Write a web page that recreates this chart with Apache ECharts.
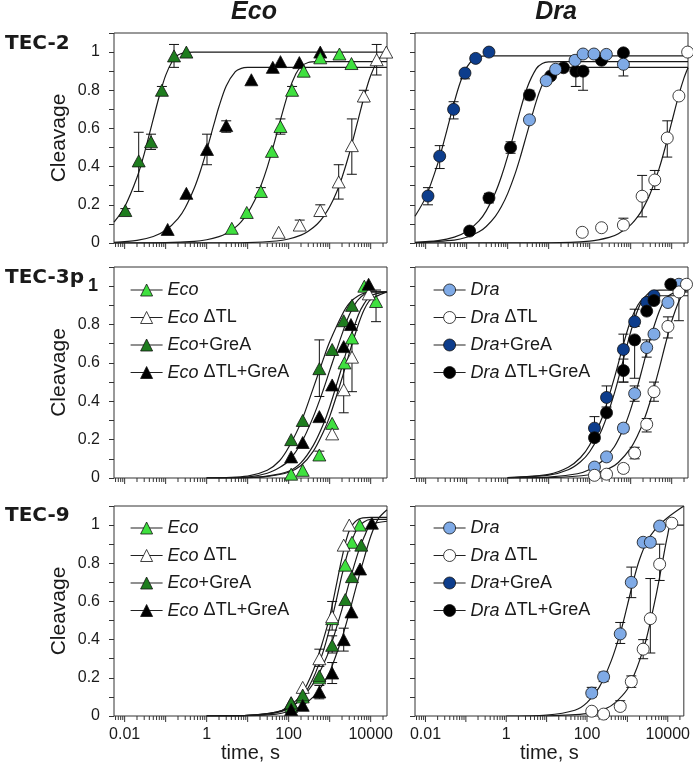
<!DOCTYPE html>
<html><head><meta charset="utf-8">
<script src="https://cdn.jsdelivr.net/npm/echarts@6.0.0/dist/echarts.min.js"></script>
<style>html,body{margin:0;padding:0;background:#fff}#chart{width:693px;height:766px}</style>
</head><body><div id="chart"></div>
<script>
// ---------- axis / label data ----------
const X_MIN = 0.0055, X_MAX = 25000;
const X_TICK_VALUES = [0.01, 1, 100, 10000];
const X_TICK_LABELS = ['0.01', '1', '100', '10000'];
const X_DECADES = [-3, -2, -1, 0, 1, 2, 3, 4];
const X_MULTS = [1, 2, 3, 4, 5, 6, 7, 8, 9];
const Y_TICK_VALUES = [0, 0.2, 0.4, 0.6, 0.8, 1];
const Y_TICK_LABELS = ['0', '0.2', '0.4', '0.6', '0.8', '1'];
const COLUMN_TITLES = ['Eco', 'Dra'];
const ROW_TITLES = ['TEC-2', 'TEC-3p', 'TEC-9'];
const LEGEND_ECO = ['Eco', 'Eco ΔTL', 'Eco+GreA', 'Eco ΔTL+GreA'];
const LEGEND_DRA = ['Dra', 'Dra ΔTL', 'Dra+GreA', 'Dra ΔTL+GreA'];

// ---------- TEC-2, Eco ----------
const t2_eco = [[4.1,0.077],[9.5,0.16],[21,0.27],[39,0.48],[63,0.61],[121,0.80],[233,0.90],[590,0.97],[1730,0.99],[3400,0.94]];
const t2_eco_err = [[21,0.25,0.29],[63,0.57,0.65],[121,0.78,0.82]];
const t2_eco_fit = [[0.0055,0],[0.1,0.0017],[0.5,0.0085],[1,0.017],[2,0.0337],[3,0.05],[5,0.0818],[7,0.1125],[10,0.1563],[15,0.2248],[20,0.2872],[30,0.3964],[50,0.5638],[70,0.6805],[100,0.793],[150,0.8862],[200,0.924],[300,0.9457],[500,0.9499],[2000,0.95],[25000,0.95]];
const t2_ecoTL = [[57,0.056],[186,0.094],[590,0.17],[1660,0.32],[3470,0.51],[6800,0.77],[14000,0.96],[24000,1.0]];
const t2_ecoTL_err = [[186,0.07,0.12],[590,0.14,0.20],[1660,0.23,0.41],[3470,0.36,0.65],[6800,0.74,0.80],[14000,0.88,1.04]];
const t2_ecoTL_fit = [[0.0055,0],[1,0.0002],[10,0.0021],[50,0.0104],[100,0.0208],[200,0.0411],[300,0.0611],[500,0.0996],[700,0.1367],[1000,0.1894],[1500,0.2702],[2000,0.343],[3000,0.4674],[5000,0.6501],[7000,0.7701],[10000,0.8775],[15000,0.9571],[20000,0.985],[25000,0.9948]];
const t2_ecoG = [[0.0104,0.17],[0.022,0.43],[0.044,0.53],[0.081,0.80],[0.16,0.98],[0.32,1.0]];
const t2_ecoG_err = [[0.0104,0.155,0.18],[0.022,0.27,0.58],[0.044,0.49,0.57],[0.081,0.78,0.82],[0.16,0.92,1.04]];
const t2_ecoG_fit = [[0.0055,0.109],[0.01,0.189],[0.02,0.343],[0.03,0.467],[0.05,0.65],[0.07,0.77],[0.1,0.878],[0.15,0.957],[0.2,0.985],[0.3,0.998],[0.5,1.0],[2,1.0],[25000,1.0]];
const t2_ecoTLG = [[0.112,0.071],[0.32,0.26],[1.02,0.49],[3.0,0.615],[12.3,0.855],[41,0.92],[63,0.95],[182,0.945],[590,1.0]];
const t2_ecoTLG_err = [[1.02,0.41,0.57],[3.0,0.58,0.64]];
const t2_ecoTLG_fit = [[0.0055,0.004],[0.02,0.0137],[0.05,0.0339],[0.1,0.0665],[0.2,0.128],[0.3,0.185],[0.5,0.288],[0.7,0.376],[1,0.485],[1.5,0.621],[2,0.715],[3,0.823],[5,0.898],[7,0.915],[10,0.9195],[20,0.92],[200,0.92],[25000,0.92]];

// ---------- TEC-2, Dra ----------
const t2_dra = [[3.4,0.645],[8.7,0.85],[14.8,0.91],[44,0.957],[69,0.99],[127,0.99],[255,0.988],[665,0.936]];
const t2_dra_err = [[665,0.875,0.94]];
const t2_dra_fit = [[0.0055,0.0017],[0.05,0.0151],[0.1,0.0299],[0.2,0.0588],[0.3,0.0867],[0.5,0.14],[0.7,0.1897],[1,0.2586],[1.5,0.3592],[2,0.4445],[3,0.5781],[5,0.7433],[7,0.8286],[10,0.8861],[15,0.9135],[20,0.9187],[30,0.92],[300,0.92],[25000,0.92]];
const t2_draTL = [[66,0.056],[195,0.08],[665,0.094],[1900,0.245],[3870,0.33],[7800,0.55],[15000,0.77],[24500,1.0]];
const t2_draTL_err = [[665,0.08,0.13],[1900,0.137,0.354],[3870,0.28,0.38],[7800,0.45,0.64]];
const t2_draTL_fit = [[0.0055,0],[10,0.001],[100,0.01],[300,0.0296],[500,0.0488],[1000,0.0952],[1500,0.1393],[2000,0.1813],[3000,0.2592],[5000,0.3935],[7000,0.5034],[10000,0.6321],[15000,0.7769],[20000,0.8647],[25000,0.9179]];
const t2_draG = [[0.0114,0.246],[0.022,0.455],[0.048,0.70],[0.091,0.89],[0.166,0.967],[0.35,1.0]];
const t2_draG_err = [[0.0114,0.20,0.29],[0.022,0.39,0.51],[0.048,0.65,0.74],[0.091,0.86,0.89]];
const t2_draG_fit = [[0.0055,0.14],[0.01,0.239],[0.02,0.42],[0.03,0.557],[0.05,0.738],[0.07,0.842],[0.1,0.92],[0.15,0.965],[0.2,0.976],[0.3,0.98],[1,0.98],[25000,0.98]];
const t2_draTLG = [[0.118,0.0625],[0.35,0.236],[1.18,0.50],[3.4,0.775],[11.2,0.875],[23,0.918],[46,0.90],[69,0.90],[195,0.957],[665,0.996]];
const t2_draTLG_err = [[0.35,0.21,0.26],[1.18,0.47,0.53],[3.4,0.75,0.80],[46,0.82,0.92],[69,0.80,0.92]];
const t2_draTLG_fit = [[0.0055,0.0034],[0.02,0.0123],[0.05,0.0304],[0.1,0.0598],[0.2,0.1158],[0.3,0.1682],[0.5,0.2637],[0.7,0.3473],[1,0.4541],[1.5,0.5917],[2,0.6911],[3,0.8149],[5,0.9131],[7,0.9398],[10,0.9486],[20,0.95],[200,0.95],[25000,0.95]];

// ---------- TEC-3p1, Eco ----------
const t3_eco = [[115,0.02],[220,0.04],[560,0.12],[1150,0.285],[2300,0.60],[3500,0.73],[7000,1.0],[13500,0.92]];
const t3_eco_err = [[560,0.10,0.14],[13500,0.815,0.98]];
const t3_eco_fit = [[1,0],[10,0.002],[30,0.01],[100,0.035],[200,0.08],[400,0.17],[700,0.28],[1000,0.37],[2000,0.58],[3000,0.71],[5000,0.85],[7000,0.91],[10000,0.95],[25000,0.97]];
const t3_ecoTL = [[1150,0.23],[2200,0.46],[3500,0.63],[9000,0.96]];
const t3_ecoTL_err = [[2200,0.34,0.58],[3500,0.45,0.80]];
const t3_ecoTL_fit = [[1,0],[10,0.002],[30,0.008],[100,0.03],[200,0.065],[400,0.14],[700,0.24],[1000,0.32],[2000,0.52],[3000,0.65],[5000,0.80],[7000,0.88],[10000,0.93],[25000,0.97]];
const t3_ecoG = [[115,0.20],[220,0.30],[560,0.57],[1150,0.67],[2200,0.82],[3500,0.90]];
const t3_ecoG_err = [[560,0.425,0.72]];
const t3_ecoG_fit = [[1,0],[10,0.01],[30,0.04],[60,0.09],[100,0.16],[200,0.29],[400,0.47],[700,0.62],[1000,0.71],[2000,0.85],[3000,0.91],[5000,0.95],[10000,0.97],[25000,0.97]];
const t3_ecoTLG = [[115,0.11],[220,0.185],[560,0.32],[1150,0.485],[2200,0.685],[3300,0.80],[8900,1.01]];
const t3_ecoTLG_err = [];
const t3_ecoTLG_fit = [[1,0],[10,0.005],[30,0.025],[60,0.055],[100,0.09],[200,0.18],[400,0.32],[700,0.46],[1000,0.56],[2000,0.75],[3000,0.85],[5000,0.93],[10000,0.97],[25000,0.97]];

// ---------- TEC-3p1, Dra ----------
const t3_dra = [[131,0.057],[258,0.11],[665,0.26],[1250,0.44],[2460,0.68],[3700,0.75],[8100,0.915],[15000,1.01]];
const t3_dra_err = [[665,0.24,0.28],[1250,0.40,0.48],[2460,0.63,0.72]];
const t3_dra_fit = [[1,0],[10,0.0045],[50,0.022],[100,0.044],[200,0.087],[400,0.163],[700,0.267],[1000,0.358],[1500,0.484],[2000,0.585],[3000,0.727],[5000,0.871],[7000,0.931],[10000,0.96],[25000,0.97]];
const t3_draTL = [[131,0.014],[258,0.02],[665,0.05],[1250,0.13],[2460,0.28],[3700,0.45],[8100,0.79],[15000,0.97],[23000,1.01]];
const t3_draTL_err = [[665,0.03,0.07],[1250,0.10,0.16],[2460,0.24,0.31],[3700,0.40,0.50],[8100,0.73,0.84],[15000,0.82,1.01]];
const t3_draTL_fit = [[1,0],[10,0.0017],[100,0.017],[300,0.05],[500,0.081],[1000,0.156],[1500,0.225],[2000,0.288],[3000,0.40],[5000,0.573],[7000,0.696],[10000,0.817],[15000,0.922],[20000,0.967],[25000,0.986]];
const t3_draG = [[131,0.26],[258,0.42],[665,0.67],[1250,0.815],[2460,0.915],[3700,0.95]];
const t3_draG_err = [[131,0.19,0.32],[258,0.37,0.48],[665,0.50,0.75],[1250,0.79,0.88]];
const t3_draG_fit = [[1,0.0019],[10,0.019],[30,0.056],[60,0.107],[100,0.172],[200,0.313],[400,0.522],[700,0.714],[1000,0.821],[1500,0.902],[2000,0.933],[3000,0.948],[5000,0.95],[25000,0.95]];
const t3_draTLG = [[131,0.21],[258,0.34],[665,0.56],[1250,0.72],[2460,0.87],[3700,0.925],[9500,1.01]];
const t3_draTLG_err = [[665,0.50,0.62],[1250,0.52,0.73]];
const t3_draTLG_fit = [[1,0.0015],[10,0.0146],[30,0.043],[60,0.085],[100,0.137],[200,0.254],[400,0.441],[700,0.637],[1000,0.761],[1500,0.878],[2000,0.931],[3000,0.97],[5000,0.979],[25000,0.98]];

// ---------- TEC-9, Eco ----------
const t9_eco = [[115,0.05],[220,0.10],[560,0.20],[1150,0.51],[2400,0.79],[3500,0.91],[5400,1.0]];
const t9_eco_err = [];
const t9_eco_fit = [[1,0],[10,0.003],[50,0.018],[100,0.04],[200,0.09],[400,0.20],[700,0.34],[1000,0.46],[1500,0.62],[2000,0.74],[3000,0.88],[5000,0.99],[10000,1.03],[25000,1.03]];
const t9_ecoTL = [[115,0.07],[220,0.15],[560,0.30],[1150,0.52],[2200,0.895],[3000,1.0]];
const t9_ecoTL_err = [[560,0.26,0.35],[1150,0.45,0.60]];
const t9_ecoTL_fit = [[1,0],[10,0.003],[50,0.02],[100,0.05],[200,0.11],[400,0.24],[700,0.40],[1000,0.52],[1500,0.70],[2000,0.83],[3000,0.97],[5000,1.03],[10000,1.04],[25000,1.04]];
const t9_ecoG = [[115,0.068],[220,0.11],[560,0.21],[1150,0.37],[2400,0.61],[3500,0.73],[5900,0.895]];
const t9_ecoG_err = [[1150,0.33,0.42]];
const t9_ecoG_fit = [[1,0],[10,0.003],[50,0.02],[100,0.045],[200,0.09],[400,0.17],[700,0.27],[1000,0.35],[2000,0.56],[3000,0.70],[5000,0.86],[7000,0.94],[10000,1.0],[25000,1.02]];
const t9_ecoTLG = [[115,0.034],[220,0.056],[560,0.126],[1150,0.225],[2200,0.40],[3400,0.545],[5500,0.77],[10700,1.01]];
const t9_ecoTLG_err = [[560,0.09,0.16],[1150,0.17,0.28],[2200,0.34,0.46]];
const t9_ecoTLG_fit = [[1,0],[10,0.002],[50,0.01],[100,0.025],[200,0.05],[400,0.10],[700,0.17],[1000,0.23],[2000,0.41],[3000,0.54],[5000,0.72],[7000,0.83],[10000,0.94],[15000,1.03],[25000,1.08]];

// ---------- TEC-9, Dra ----------
const t9_dra = [[131,0.12],[258,0.205],[665,0.43],[1250,0.70],[2460,0.91],[3700,0.91],[6300,0.995]];
const t9_dra_err = [[131,0.10,0.15],[258,0.18,0.23],[665,0.38,0.49],[1250,0.62,0.78],[3700,0.89,0.93]];
const t9_dra_fit = [[1,0],[10,0.005],[50,0.03],[100,0.07],[200,0.15],[400,0.29],[700,0.45],[1000,0.58],[1500,0.73],[2000,0.82],[3000,0.91],[5000,0.98],[10000,1.04],[25000,1.10]];
const t9_draTL = [[131,0.025],[258,0.01],[665,0.05],[1250,0.18],[2460,0.35],[3700,0.51],[6300,0.795],[12600,1.01]];
const t9_draTL_err = [[665,0.03,0.08],[1250,0.15,0.21],[2460,0.30,0.40],[3700,0.33,0.72],[6300,0.71,0.90]];
const t9_draTL_fit = [[10,0],[100,0.012],[300,0.04],[500,0.07],[1000,0.14],[1500,0.22],[2000,0.29],[3000,0.41],[5000,0.62],[7000,0.78],[10000,0.95],[12000,1.0],[25000,1.0]];

// ---------- layout & style ----------
const GRIDS = [
  {left:114, top:33, width:273, height:210},
  {left:415, top:33, width:273, height:210},
  {left:114, top:267, width:273, height:211},
  {left:415, top:267, width:273, height:211},
  {left:114, top:506, width:273, height:210},
  {left:415, top:506, width:273, height:210}
];
const FONT = '"Liberation Sans", Arial, sans-serif';
const TXT = '#1a1a1a';
const STYLE = {
  'Eco': {symbol:'triangle', size:[13,12], color:'#3fe03f'},
  'Eco ΔTL': {symbol:'triangle', size:[13,12], color:'#ffffff'},
  'Eco+GreA': {symbol:'triangle', size:[13,12], color:'#1e7d1e'},
  'Eco ΔTL+GreA': {symbol:'triangle', size:[13,12], color:'#000000'},
  'Dra': {symbol:'circle', size:12, color:'#7faae6'},
  'Dra ΔTL': {symbol:'circle', size:12, color:'#ffffff'},
  'Dra+GreA': {symbol:'circle', size:12, color:'#0d3d8c'},
  'Dra ΔTL+GreA': {symbol:'circle', size:12, color:'#000000'}
};
const PANELS = [
  [['Eco+GreA',t2_ecoG,t2_ecoG_err,t2_ecoG_fit],['Eco ΔTL+GreA',t2_ecoTLG,t2_ecoTLG_err,t2_ecoTLG_fit],['Eco',t2_eco,t2_eco_err,t2_eco_fit],['Eco ΔTL',t2_ecoTL,t2_ecoTL_err,t2_ecoTL_fit]],
  [['Dra+GreA',t2_draG,t2_draG_err,t2_draG_fit],['Dra ΔTL+GreA',t2_draTLG,t2_draTLG_err,t2_draTLG_fit],['Dra',t2_dra,t2_dra_err,t2_dra_fit],['Dra ΔTL',t2_draTL,t2_draTL_err,t2_draTL_fit]],
  [['Eco',t3_eco,t3_eco_err,t3_eco_fit],['Eco ΔTL',t3_ecoTL,t3_ecoTL_err,t3_ecoTL_fit],['Eco+GreA',t3_ecoG,t3_ecoG_err,t3_ecoG_fit],['Eco ΔTL+GreA',t3_ecoTLG,t3_ecoTLG_err,t3_ecoTLG_fit]],
  [['Dra',t3_dra,t3_dra_err,t3_dra_fit],['Dra ΔTL',t3_draTL,t3_draTL_err,t3_draTL_fit],['Dra+GreA',t3_draG,t3_draG_err,t3_draG_fit],['Dra ΔTL+GreA',t3_draTLG,t3_draTLG_err,t3_draTLG_fit]],
  [['Eco',t9_eco,t9_eco_err,t9_eco_fit],['Eco ΔTL',t9_ecoTL,t9_ecoTL_err,t9_ecoTL_fit],['Eco+GreA',t9_ecoG,t9_ecoG_err,t9_ecoG_fit],['Eco ΔTL+GreA',t9_ecoTLG,t9_ecoTLG_err,t9_ecoTLG_fit]],
  [['Dra',t9_dra,t9_dra_err,t9_dra_fit],['Dra ΔTL',t9_draTL,t9_draTL_err,t9_draTL_fit]]
];

// x tick positions (major at powers of ten, minor at 2..9 x 10^k)
const xTicks = [];
X_DECADES.forEach(e => X_MULTS.forEach(m => {
  const v = m * Math.pow(10, e);
  if (v >= X_MIN * 0.999 && v <= X_MAX * 1.001) xTicks.push([v, 0, m === 1 ? 1 : 0]);
}));

function errRender(params, api) {
  const x = api.value(0);
  const a = api.coord([x, api.value(1)]);
  const b = api.coord([x, api.value(2)]);
  const w = 5;
  const st = {stroke:'#111', lineWidth:1};
  return {type:'group', children:[
    {type:'line', shape:{x1:a[0], y1:a[1], x2:b[0], y2:b[1]}, style:st},
    {type:'line', shape:{x1:a[0]-w, y1:a[1], x2:a[0]+w, y2:a[1]}, style:st},
    {type:'line', shape:{x1:b[0]-w, y1:b[1], x2:b[0]+w, y2:b[1]}, style:st}
  ]};
}
function tickRender(params, api) {
  const p = api.coord([api.value(0), 0]);
  const len = api.value(2) ? 6 : 4;
  return {type:'line', shape:{x1:p[0], y1:p[1], x2:p[0], y2:p[1] + len}, style:{stroke:'#333', lineWidth:1}};
}
function labelFor(values, labels, v) {
  for (let i = 0; i < values.length; i++) {
    if (Math.abs(values[i] - v) <= Math.abs(values[i]) * 1e-6 + 1e-9) return labels[i];
  }
  return '';
}

const xAxis = [], yAxis = [], series = [];
GRIDS.forEach((g, p) => {
  const bottomRow = p >= 4, leftCol = p % 2 === 0;
  xAxis.push({
    type:'log', logBase:10, gridIndex:p, min:X_MIN, max:X_MAX,
    axisLine:{show:false}, axisTick:{show:false}, splitLine:{show:false},
    axisLabel:{show:bottomRow, interval:0, margin:11, fontSize:16, color:TXT, fontFamily:FONT,
      showMinLabel:false, showMaxLabel:false,
      formatter: v => labelFor(X_TICK_VALUES, X_TICK_LABELS, v)},
    name: bottomRow ? 'time, s' : '', nameLocation:'middle', nameGap:23,
    nameTextStyle:{fontSize:20, color:TXT, fontFamily:FONT}
  });
  yAxis.push({
    type:'value', gridIndex:p, min:0, max:1.1, interval:0.1,
    axisLine:{show:false}, splitLine:{show:false},
    axisTick:{show:true, length:5, interval:0, lineStyle:{color:'#333', width:1}},
    axisLabel:{show:leftCol, interval:0, margin:14, fontSize:16, color:TXT, fontFamily:FONT,
      formatter: v => (p === 2 && Math.abs(v - 1) < 1e-6) ? '' : labelFor(Y_TICK_VALUES, Y_TICK_LABELS, v)},
    name: leftCol ? 'Cleavage' : '', nameLocation:'middle', nameGap:44,
    nameTextStyle:{fontSize:21, color:TXT, fontFamily:FONT}
  });
  series.push({type:'custom', name:'xticks'+p, xAxisIndex:p, yAxisIndex:p, data:xTicks,
    encode:{x:0, y:1}, renderItem:tickRender, silent:true, z:1, clip:false});
  PANELS[p].forEach(([name, pts, err, fit]) => {
    const st = STYLE[name];
    series.push({type:'line', name:name + ' fit', xAxisIndex:p, yAxisIndex:p, data:fit,
      smooth:0.3, symbol:'none', showSymbol:false, silent:true, z:2,
      lineStyle:{color:'#1a1a1a', width:1.2}});
    if (err && err.length) series.push({type:'custom', name:name + ' err', xAxisIndex:p, yAxisIndex:p,
      data:err, encode:{x:0, y:[1, 2]}, renderItem:errRender, silent:true, z:3});
    series.push({type:'line', name:name, xAxisIndex:p, yAxisIndex:p, data:pts,
      symbol:st.symbol, symbolSize:st.size, showSymbol:true, showAllSymbol:true, z:4,
      lineStyle:{width:0, opacity:0},
      itemStyle:{color:st.color, borderColor:'#111', borderWidth:0.8},
      emphasis:{disabled:true}});
  });
});

function legendFor(names, left, top) {
  return {
    orient:'vertical', left:left, top:top, itemWidth:32, itemHeight:15, itemGap:9.5, padding:0,
    selectedMode:false,
    data:names.map(n => ({name:n,
      itemStyle:{color:STYLE[n].color, borderColor:'#111', borderWidth:0.8},
      lineStyle:{color:'#222', width:1.2, opacity:1}})),
    formatter: n => { const m = n.match(/^(Eco|Dra)(.*)$/); return '{i|' + m[1] + '}{n|' + m[2] + '}'; },
    textStyle:{fontSize:18, color:TXT, fontFamily:FONT, lineHeight:18,
      rich:{i:{fontStyle:'italic', fontSize:18, fontFamily:FONT, color:TXT, lineHeight:18},
            n:{fontSize:18, fontFamily:FONT, color:TXT, lineHeight:18}}}
  };
}

const titles = [
  {text:COLUMN_TITLES[0], left:254, top:0, textAlign:'center'},
  {text:COLUMN_TITLES[1], left:556, top:0, textAlign:'center'}
].map(t => Object.assign(t, {padding:0, textStyle:{fontSize:25, fontWeight:'bold', fontStyle:'italic', fontFamily:FONT, color:TXT}}));
[[ROW_TITLES[0], 34], [ROW_TITLES[1], 268], [ROW_TITLES[2], 506]].forEach(([t, top]) => {
  titles.push({text:t, left:5, top:top, padding:0,
    textStyle:{fontSize:20, fontWeight:'bold', fontFamily:'"DejaVu Sans", sans-serif', color:TXT}});
});
titles.push({text:'1', left:88, top:277, padding:0, textStyle:{fontSize:18, fontFamily:FONT, color:TXT}});

const chart = echarts.init(document.getElementById('chart'), null, {renderer:'canvas'});
chart.setOption({
  animation:false,
  backgroundColor:'#fff',
  title:titles,
  grid:GRIDS.map(g => Object.assign({show:true, borderColor:'#333', borderWidth:1, containLabel:false}, g)),
  xAxis:xAxis, yAxis:yAxis,
  legend:[legendFor(LEGEND_ECO, 130, 281), legendFor(LEGEND_DRA, 433, 281),
          legendFor(LEGEND_ECO, 130, 519), legendFor(LEGEND_DRA, 433, 519)],
  series:series
});
</script></body></html>
